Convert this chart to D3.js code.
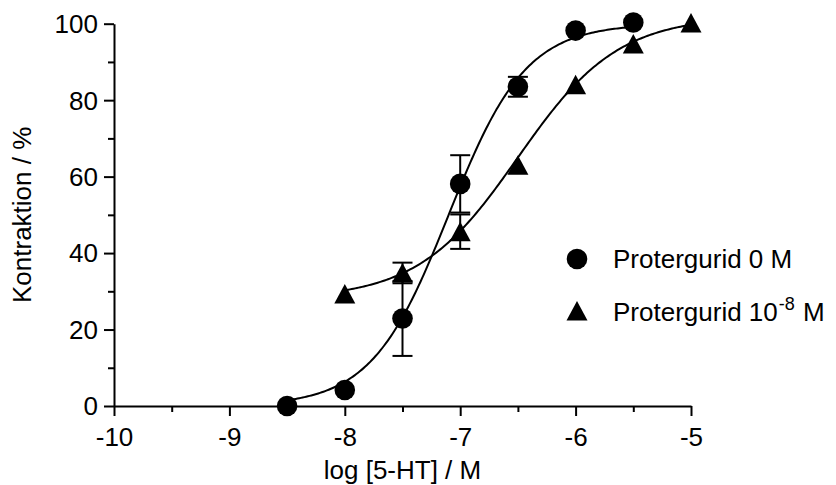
<!DOCTYPE html>
<html>
<head>
<meta charset="utf-8">
<script src="https://cdn.jsdelivr.net/npm/d3@7"></script>
<style>
  html, body { margin: 0; padding: 0; background: #fff; }
  svg { display: block; }
  text { font-family: "Liberation Sans", Arial, sans-serif; fill: #000; }
</style>
</head>
<body>
<svg id="chart" width="836" height="485"></svg>
<script>
// Concentration-response data: contraction (%) vs log [5-HT]
const ctrlX   = [-8.5, -8, -7.5, -7, -6.5, -6, -5.5];
const ctrlY   = [0, 4.2, 22.9, 58.1, 83.5, 98.2, 100.3];
const ctrlErr = [0, 0, 9.8, 7.5, 2.6, 0, 0];

const protX   = [-8, -7.5, -7, -6.5, -6, -5.5, -5];
const protY   = [29.3, 34.8, 45.6, 63.0, 84.0, 94.7, 100.2];
const protErr = [0, 2.7, 4.5, 0, 0, 0, 0];

// Sigmoidal (Hill) fit parameters for each series
const ctrlFit = { bottom: 0, top: 100, logEC50: -7.1, hill: 1.3 };
const protFit = { bottom: 28, top: 102, logEC50: -6.5, hill: 1.0 };

const xMajor = [-10, -9, -8, -7, -6, -5];
const xMinor = [-9.5, -8.5, -7.5, -6.5, -5.5];
const yMajor = [0, 20, 40, 60, 80, 100];
const yMinor = [10, 30, 50, 70, 90];

const seriesNames = ["Protergurid 0 M", "Protergurid 10"];

const svg = d3.select("#chart");
const FS = 26;

const x = d3.scaleLinear().domain([-10, -5]).range([114, 691]);
const y = d3.scaleLinear().domain([0, 100]).range([406, 23.7]);

function hill(p, v) {
  return p.bottom + (p.top - p.bottom) / (1 + Math.pow(10, (p.logEC50 - v) * p.hill));
}

// Axes
const gx = svg.append("g").attr("transform", `translate(0,${y(0)})`);
gx.call(d3.axisBottom(x).tickValues(xMajor).tickSize(10).tickSizeOuter(0)
  .tickPadding(12).tickFormat(d => d3.format("d")(d).replace("\u2212", "-")));
const gxm = svg.append("g").attr("transform", `translate(0,${y(0)})`);
gxm.call(d3.axisBottom(x).tickValues(xMinor).tickSize(6).tickFormat(""));
gxm.select(".domain").remove();

const gy = svg.append("g").attr("transform", `translate(${x(-10)},0)`);
gy.call(d3.axisLeft(y).tickValues(yMajor).tickSize(10).tickSizeOuter(0).tickPadding(6));
const gym = svg.append("g").attr("transform", `translate(${x(-10)},0)`);
gym.call(d3.axisLeft(y).tickValues(yMinor).tickSize(6).tickFormat(""));
gym.select(".domain").remove();

svg.selectAll(".domain, .tick line").attr("stroke", "#000").attr("stroke-width", 2);
svg.selectAll(".tick text").attr("font-size", FS)
  .attr("font-family", "Liberation Sans, Arial, sans-serif").attr("fill", "#000");
gy.selectAll(".tick text").attr("dy", "0.34em");
gx.selectAll(".tick text").attr("dy", "0.71em");

// Axis titles
svg.append("text")
  .attr("x", (x(-10) + x(-5)) / 2).attr("y", 479)
  .attr("text-anchor", "middle").attr("font-size", FS)
  .text("log [5-HT] / M");
svg.append("text")
  .attr("transform", `translate(31,${(y(0) + y(100)) / 2}) rotate(-90)`)
  .attr("text-anchor", "middle").attr("font-size", FS)
  .text("Kontraktion / %");

// Fitted curves
const line = d3.line().x(d => x(d[0])).y(d => y(d[1]));
function curvePoints(p, xs) {
  const lo = d3.min(xs), hi = d3.max(xs);
  return d3.range(0, 201).map(i => {
    const v = lo + (hi - lo) * i / 200;
    return [v, hill(p, v)];
  });
}
svg.append("path").datum(curvePoints(ctrlFit, ctrlX)).attr("d", line)
  .attr("fill", "none").attr("stroke", "#000").attr("stroke-width", 2);
svg.append("path").datum(curvePoints(protFit, protX)).attr("d", line)
  .attr("fill", "none").attr("stroke", "#000").attr("stroke-width", 2);

// Error bars
function errorBars(xs, ys, es) {
  const data = xs.map((v, i) => ({ x: v, y: ys[i], e: es[i] })).filter(d => d.e > 0);
  const g = svg.append("g").attr("stroke", "#000").attr("stroke-width", 2);
  data.forEach(d => {
    const cx = x(d.x), y1 = y(d.y + d.e), y0 = y(d.y - d.e);
    g.append("line").attr("x1", cx).attr("x2", cx).attr("y1", y1).attr("y2", y0);
    g.append("line").attr("x1", cx - 10).attr("x2", cx + 10).attr("y1", y1).attr("y2", y1);
    g.append("line").attr("x1", cx - 10).attr("x2", cx + 10).attr("y1", y0).attr("y2", y0);
  });
}
errorBars(ctrlX, ctrlY, ctrlErr);
errorBars(protX, protY, protErr);

// Markers
const tri = (cx, cy) => `M${cx},${cy - 10}L${cx + 10.5},${cy + 9.5}L${cx - 10.5},${cy + 9.5}Z`;
svg.append("g").selectAll("circle").data(ctrlX.map((v, i) => [v, ctrlY[i]]))
  .join("circle").attr("cx", d => x(d[0])).attr("cy", d => y(d[1])).attr("r", 10.3)
  .attr("fill", "#000");
svg.append("g").selectAll("path").data(protX.map((v, i) => [v, protY[i]]))
  .join("path").attr("d", d => tri(x(d[0]), y(d[1]))).attr("fill", "#000");

// Legend
const lg = svg.append("g");
lg.append("circle").attr("cx", 577).attr("cy", 259).attr("r", 10.3).attr("fill", "#000");
lg.append("text").attr("x", 613).attr("y", 268).attr("font-size", FS).text(seriesNames[0]);
lg.append("path").attr("d", tri(577, 311)).attr("fill", "#000");
const t2 = lg.append("text").attr("x", 613).attr("y", 321).attr("font-size", FS);
t2.append("tspan").text(seriesNames[1]);
t2.append("tspan").attr("font-size", 18).attr("dx", 1).attr("dy", -11).text("-8");
t2.append("tspan").attr("dx", 1).attr("dy", 11).text(" M");
</script>
</body>
</html>
